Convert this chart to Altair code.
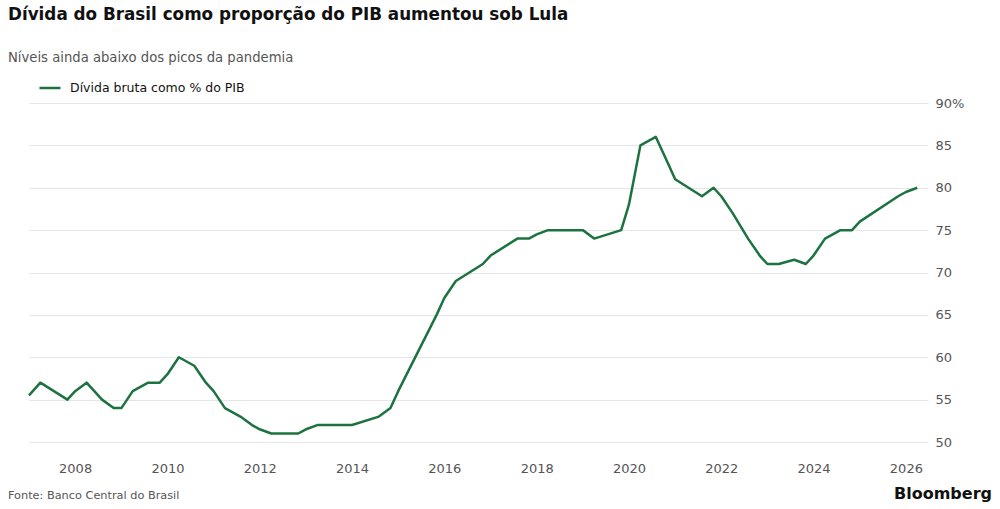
import altair as alt
import pandas as pd

# Dívida bruta do governo geral, % do PIB
datas = [
    "2007-01", "2007-04", "2007-11", "2008-01", "2008-04", "2008-08", "2008-11",
    "2009-01", "2009-04", "2009-08", "2009-11", "2010-01", "2010-04", "2010-08",
    "2010-11", "2011-01", "2011-04", "2011-08", "2011-11", "2012-01", "2012-04",
    "2012-11", "2013-01", "2013-04", "2014-01", "2014-08", "2014-11", "2015-01",
    "2015-11", "2016-01", "2016-04", "2016-11", "2017-01", "2017-08", "2017-11",
    "2018-01", "2018-04", "2019-01", "2019-04", "2019-11", "2020-01", "2020-04",
    "2020-08", "2020-11", "2021-01", "2021-08", "2021-11", "2022-01", "2022-04",
    "2022-08", "2022-11", "2023-01", "2023-04", "2023-08", "2023-11", "2024-01",
    "2024-04", "2024-08", "2024-11", "2025-01", "2025-11", "2026-01", "2026-04",
]
divida = [
    55.5, 57, 55, 56, 57, 55, 54,
    54, 56, 57, 57, 58, 60, 59,
    57, 56, 54, 53, 52, 51.5, 51,
    51, 51.5, 52, 52, 53, 54, 56,
    65, 67, 69, 71, 72, 74, 74,
    74.5, 75, 75, 74, 75, 78, 85,
    86, 83, 81, 79, 80, 79, 77,
    74, 72, 71, 71, 71.5, 71, 72,
    74, 75, 75, 76, 79, 79.5, 80,
]
serie = "Dívida bruta como % do PIB"
anos_eixo = list(range(2008, 2027, 2))
niveis_eixo = [50, 55, 60, 65, 70, 75, 80, 85, 90]

titulo = "Dívida do Brasil como proporção do PIB aumentou sob Lula"
subtitulo = "Níveis ainda abaixo dos picos da pandemia"
fonte = "Fonte: Banco Central do Brasil"
marca = "Bloomberg"

FONT = "DejaVu Sans"
VERDE = "#1c7340"
W, H = 899, 339

df = pd.DataFrame({
    "data": [d + "-01" for d in datas],
    "valor": divida,
    "serie": serie,
})

linha = alt.Chart(df).mark_line(strokeWidth=2.5, strokeJoin="round").encode(
    x=alt.X(
        "data:T",
        title=None,
        scale=alt.Scale(
            type="utc",
            domain=[alt.DateTime(year=2007, month=1, date=1, utc=True),
                    alt.DateTime(year=2026, month=6, date=25, utc=True)],
        ),
        axis=alt.Axis(
            values=[alt.DateTime(year=a, month=1, date=1, utc=True) for a in anos_eixo],
            format="%Y", grid=False, domain=False, ticks=False,
            labelPadding=20, labelFontSize=13, labelColor="#555555", labelFont=FONT,
        ),
    ),
    y=alt.Y(
        "valor:Q",
        title=None,
        scale=alt.Scale(domain=[50, 90], nice=False, zero=False),
        axis=alt.Axis(
            orient="right", values=niveis_eixo,
            labelExpr="datum.value == 90 ? datum.value + '%' : datum.value",
            grid=True, gridColor="#e6e6e6", gridWidth=1,
            domain=False, ticks=False, labelPadding=7,
            labelFontSize=13, labelColor="#555555", labelFont=FONT,
        ),
    ),
    color=alt.Color(
        "serie:N",
        scale=alt.Scale(range=[VERDE]),
        legend=alt.Legend(
            title=None, orient="none", legendX=9, legendY=-27,
            symbolType="stroke", symbolSize=441, symbolStrokeWidth=2.5,
            labelFontSize=12.5, labelColor="#111111", labelFont=FONT,
            labelOffset=8, labelLimit=0, padding=0,
        ),
    ),
)

rodape = alt.Chart(pd.DataFrame({"t": [fonte]})).mark_text(
    align="left", baseline="alphabetic", fontSize=11.3, color="#555555", font=FONT,
).encode(text="t:N", x=alt.value(-21), y=alt.value(H + 57))

assinatura = alt.Chart(pd.DataFrame({"t": [marca]})).mark_text(
    align="right", baseline="alphabetic", fontSize=16, fontWeight="bold",
    color="#111111", font=FONT,
).encode(text="t:N", x=alt.value(W + 64), y=alt.value(H + 57))

chart = alt.layer(linha, rodape, assinatura).properties(
    width=W,
    height=H,
    background="white",
    autosize=alt.AutoSizeParams(type="none"),
    padding={"left": 29, "top": 103, "right": 72, "bottom": 67},
    title=alt.TitleParams(
        text=titulo, subtitle=subtitulo, anchor="start",
        font=FONT, fontSize=16.8, fontWeight="bold", color="#111111",
        subtitleFont=FONT, subtitleFontSize=13.2, subtitleColor="#555555",
        subtitlePadding=28, offset=12,
    ),
).configure_view(stroke=None)

chart.save("out.html", embed_options={"renderer": "svg", "actions": False})
